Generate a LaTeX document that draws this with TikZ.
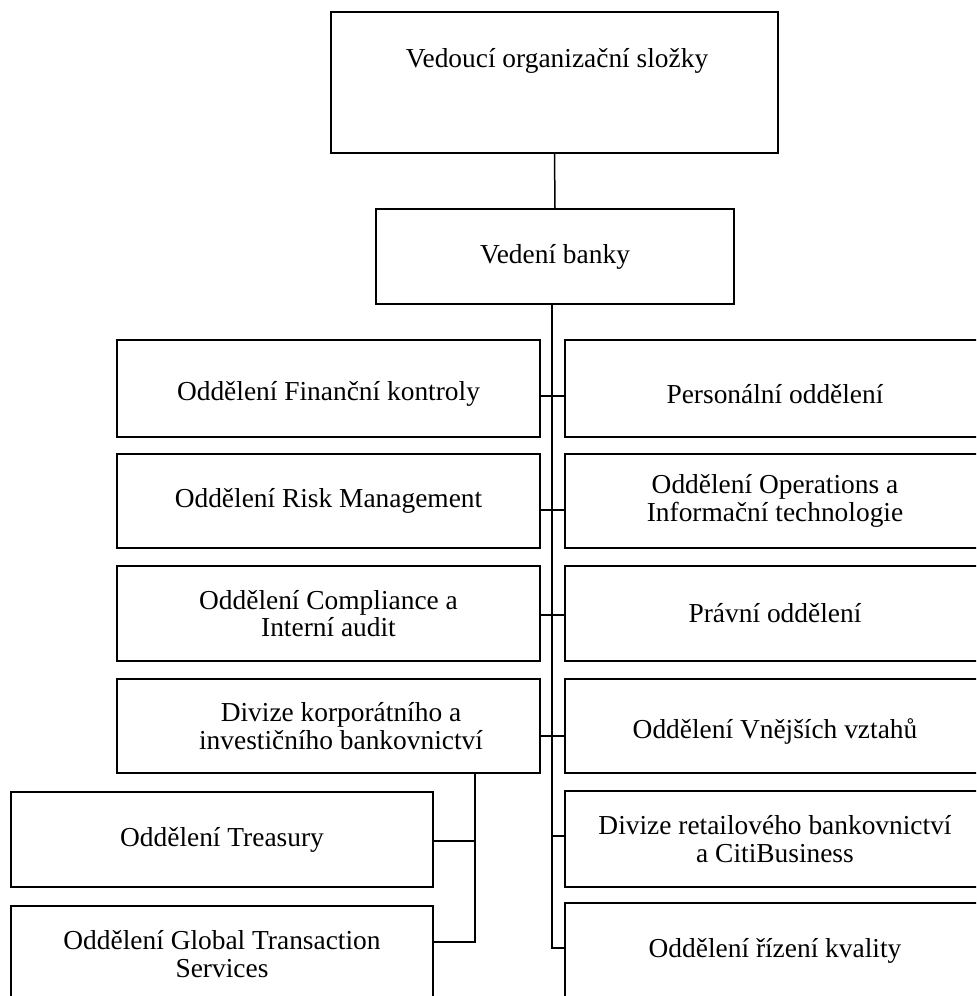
\documentclass[tikz,border=0pt]{standalone}
\usepackage{fontspec}
\setmainfont{Liberation Serif}
\begin{document}
\begin{tikzpicture}[x=0.5pt,y=-0.5pt,
  txt/.style={font=\fontsize{13.7pt}{13.6pt}\selectfont},
  box/.style={txt, draw=black, line width=0.75pt, rectangle, inner sep=0pt, align=center},
  lbox/.style={box, minimum width=211.5pt},
  rbox/.style={box, minimum width=210pt},
  low/.style={execute at begin node={\rule{0pt}{1.12em}}},
  conn/.style={draw=black, line width=0.75pt}]
\clip (0,0) rectangle (976,996);
\fill[white] (0,0) rectangle (976,996);
% top levels
\node[box, minimum width=223.5pt, minimum height=70.5pt] (top) at (554.5,82.5) {};
\node[txt, anchor=base, inner sep=0pt] (topT) at (557,67) {Vedoucí organizační složky};
\node[box, minimum width=179pt, minimum height=47.5pt] (vb) at (555,256.5) {Vedení banky};
% left column
\node[lbox, low, minimum height=48.5pt] (l1) at (328.5,388.5) {Oddělení Finanční kontroly};
\node[lbox, minimum height=47pt] (l2) at (328.5,501) {Oddělení Risk Management};
\node[lbox, minimum height=47.5pt] (l3) at (328.5,613.5) {Oddělení Compliance a\\Interní audit};
\node[lbox, low, minimum height=47pt] (l4) at (328.5,726) {\hspace*{12.5pt}Divize korporátního a\\\hspace*{12.5pt}investičního bankovnictví};
% sub boxes
\node[box, minimum width=211pt, minimum height=47.5pt] (t) at (222,839.5) {Oddělení Treasury};
\node[box, low, minimum width=211pt, minimum height=48pt] (g) at (222,954) {Oddělení Global Transaction\\Services};
% right column
\node[rbox, low, minimum height=48.5pt] (r1) at (775,388.5) {Personální oddělení};
\node[rbox, low, minimum height=47pt] (r2) at (775,501) {Oddělení Operations a\\Informační technologie};
\node[rbox, minimum height=47.5pt] (r3) at (775,613.5) {Právní oddělení};
\node[rbox, low, minimum height=47pt] (r4) at (775,726) {Oddělení Vnějších vztahů};
\node[rbox, low, minimum height=48pt] (r5) at (775,839) {Divize retailového bankovnictví\\a CitiBusiness};
\node[rbox, minimum height=48pt] (r6) at (775,951) {Oddělení řízení kvality};
% coordinates on the main line
\coordinate (m1) at (552,396);
\coordinate (m2) at (552,510);
\coordinate (m3) at (552,615);
\coordinate (m4) at (552,736);
\coordinate (m5) at (552,836);
\coordinate (m6) at (552,948);
\coordinate (s0) at (475,841);
\coordinate (s1) at (475,942);
% connectors
\draw[conn] (top.south) -- (vb.north);
\draw[conn] (vb.south -| m1) -- (m6) -- (m6 -| r6.west);
\draw[conn] (m1 -| l1.east) -- (m1 -| r1.west);
\draw[conn] (m2 -| l2.east) -- (m2 -| r2.west);
\draw[conn] (m3 -| l3.east) -- (m3 -| r3.west);
\draw[conn] (m4 -| l4.east) -- (m4 -| r4.west);
\draw[conn] (m5) -- (m5 -| r5.west);
\draw[conn] (l4.south -| s1) -- (s1) -- (s1 -| g.east);
\draw[conn] (s0) -- (s0 -| t.east);
\end{tikzpicture}
\end{document}
